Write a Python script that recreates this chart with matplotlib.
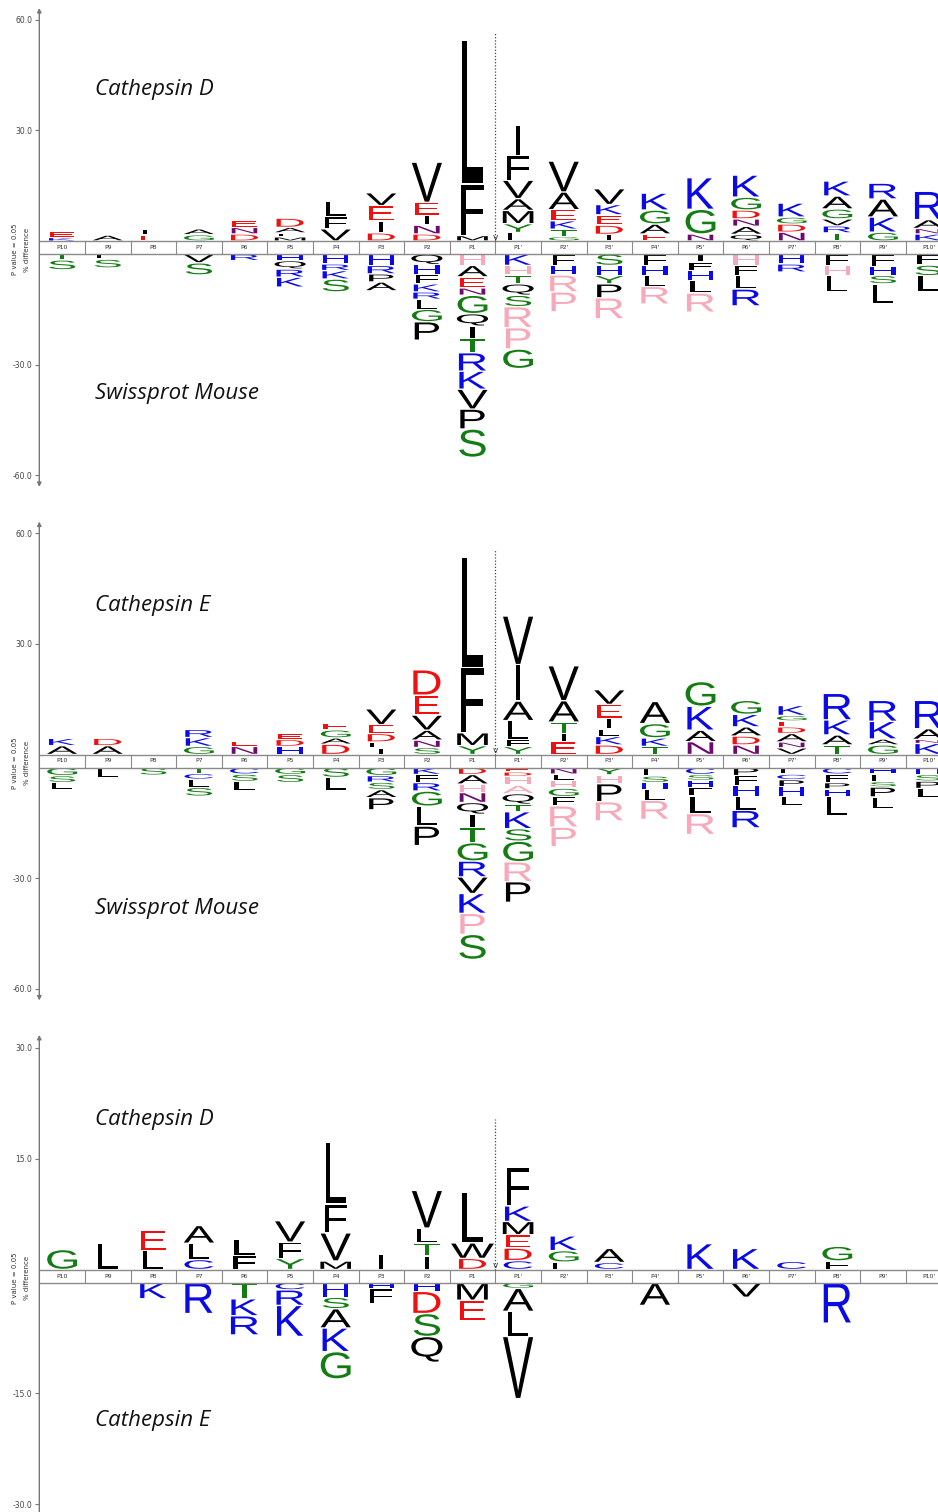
import matplotlib
matplotlib.use("Agg")
import matplotlib.pyplot as plt
from matplotlib.textpath import TextPath
from matplotlib.font_manager import FontProperties
from matplotlib.patches import PathPatch
from matplotlib.transforms import Affine2D

# ---- data -----------------------------------------------------------------
positions = ["P10", "P9", "P8", "P7", "P6", "P5", "P4", "P3", "P2", "P1",
             "P1'", "P2'", "P3'", "P4'", "P5'", "P6'", "P7'", "P8'", "P9'", "P10'"]

PINK = "#f7a9b9"

# each position: (residue, % difference[, colour override]), listed from the axis outward
catD_vs_mouse_up = [
    [("K", 0.9), ("E", 1.7)],
    [("A", 1.6)],
    [("E", 1.6), ("L", 1.6)],
    [("G", 1.7), ("A", 1.6)],
    [("D", 1.9), ("N", 1.8), ("E", 1.9)],
    [("M", 1.1), ("F", 1.1), ("A", 1.5), ("D", 2.5)],
    [("V", 3.3), ("F", 3.3), ("L", 4.2)],
    [("D", 2.2), ("I", 3.2), ("E", 4.2), ("V", 3.5)],
    [("D", 1.9), ("N", 2.4), ("I", 2.7), ("E", 3.5), ("V", 10.9)],
    [("M", 1.5), ("F", 14.0), ("L", 39.0)],
    [("L", 2.3), ("Y", 2.4), ("M", 3.6), ("A", 3.2), ("V", 5.0), ("F", 6.7), ("I", 8.3)],
    [("G", 1.2), ("T", 2.0), ("K", 2.3), ("E", 3.0), ("A", 4.8), ("V", 8.4)],
    [("I", 1.8), ("D", 2.5), ("E", 2.8), ("K", 2.8), ("V", 4.3)],
    [("E", 1.9), ("A", 2.7), ("G", 3.8), ("K", 4.6)],
    [("N", 1.9), ("G", 6.7), ("K", 8.6)],
    [("Q", 1.8), ("A", 2.2), ("N", 2.0), ("D", 2.4), ("G", 3.5), ("K", 6.0)],
    [("N", 2.4), ("D", 2.2), ("G", 1.9), ("K", 3.8)],
    [("T", 2.2), ("R", 1.9), ("V", 1.9), ("G", 2.7), ("A", 3.5), ("K", 4.1)],
    [("G", 2.4), ("K", 4.1), ("A", 4.9), ("R", 4.3)],
    [("K", 1.9), ("N", 1.5), ("A", 2.4), ("R", 7.7)],
]
catD_vs_mouse_down = [
    [("T", 1.6), ("S", 2.7)],
    [("F", 1.4), ("S", 2.4)],
    [],
    [("V", 2.4), ("S", 3.3)],
    [("R", 1.8)],
    [("H", 1.8), ("Q", 2.3), ("R", 2.2), ("K", 2.7)],
    [("H", 2.7), ("R", 1.8), ("K", 2.3), ("S", 3.5)],
    [("H", 3.1), ("R", 2.3), ("P", 2.2), ("A", 2.4)],
    [("Q", 2.9), ("H", 2.6), ("F", 2.6), ("K", 2.2), ("R", 2.0), ("L", 2.7), ("G", 3.4), ("P", 5.0)],
    [("H", 3.1, PINK), ("A", 3.1), ("E", 3.0), ("N", 2.0), ("G", 5.0), ("Q", 3.4), ("I", 3.4),
     ("T", 3.8), ("R", 5.0), ("K", 4.9), ("V", 5.4), ("P", 5.4), ("S", 7.7)],
    [("K", 3.1), ("H", 2.6, PINK), ("T", 2.4), ("Q", 3.1), ("S", 3.1), ("R", 5.7, PINK),
     ("P", 5.8, PINK), ("G", 5.3)],
    [("F", 3.1), ("H", 2.6), ("R", 4.6, PINK), ("P", 5.4, PINK)],
    [("S", 3.1), ("H", 2.7), ("Y", 2.3), ("P", 3.8), ("R", 5.7, PINK)],
    [("F", 3.1), ("H", 2.7), ("L", 3.0), ("R", 4.8, PINK)],
    [("I", 2.2), ("F", 2.3), ("H", 2.7), ("L", 3.4), ("R", 5.2, PINK)],
    [("H", 3.1, PINK), ("F", 2.7), ("L", 3.7), ("R", 4.6)],
    [("H", 2.7), ("R", 2.2)],
    [("F", 3.1), ("H", 2.7, PINK), ("L", 4.5)],
    [("F", 3.4), ("H", 2.4), ("S", 2.3), ("L", 5.4)],
    [("F", 3.0), ("S", 2.9), ("L", 4.2)],
]

catE_vs_mouse_up = [
    [("A", 2.4), ("K", 2.0)],
    [("A", 2.4), ("D", 2.0)],
    [],
    [("G", 2.2), ("K", 2.4), ("R", 2.2)],
    [("N", 2.2), ("E", 1.4)],
    [("H", 2.2), ("D", 1.9), ("E", 1.6)],
    [("D", 2.8), ("A", 1.7), ("G", 2.2), ("E", 1.8)],
    [("I", 1.8), ("F", 1.6), ("D", 2.3), ("E", 2.4), ("V", 4.3)],
    [("S", 1.9), ("N", 2.0), ("A", 2.7), ("V", 4.1), ("E", 5.4), ("D", 6.9)],
    [("Y", 2.4), ("M", 3.5), ("F", 17.7), ("L", 29.9)],
    [("Y", 2.2), ("F", 1.8), ("L", 5.2), ("A", 5.3), ("I", 9.9), ("V", 13.2)],
    [("E", 3.5), ("I", 2.2), ("T", 3.1), ("A", 5.8), ("V", 9.5)],
    [("D", 2.6), ("K", 2.3), ("L", 2.0), ("I", 2.9), ("E", 3.8), ("V", 4.0)],
    [("T", 2.2), ("K", 2.3), ("G", 3.9), ("A", 6.0)],
    [("N", 3.5), ("A", 3.1), ("K", 6.5), ("G", 6.7)],
    [("N", 2.6), ("D", 2.4), ("A", 2.5), ("K", 3.4), ("G", 3.8)],
    [("V", 1.8), ("N", 1.6), ("A", 2.3), ("D", 1.8), ("E", 1.6), ("G", 1.5), ("K", 2.7)],
    [("T", 2.6), ("A", 2.7), ("K", 4.1), ("R", 7.2)],
    [("G", 2.6), ("A", 1.6), ("K", 4.8), ("R", 5.7)],
    [("K", 3.0), ("N", 1.1), ("A", 2.9), ("R", 7.7)],
]
catE_vs_mouse_down = [
    [("G", 2.2), ("S", 1.9), ("L", 1.9)],
    [("L", 2.8)],
    [("S", 2.1)],
    [("T", 1.6), ("C", 1.6), ("L", 2.2), ("S", 2.4)],
    [("C", 1.8), ("S", 2.0), ("L", 2.4)],
    [("G", 1.9), ("S", 2.2)],
    [("S", 2.7), ("L", 3.5)],
    [("G", 2.2), ("R", 1.8), ("S", 2.0), ("A", 2.2), ("P", 3.3)],
    [("K", 1.9), ("F", 2.2), ("R", 2.3), ("G", 4.1), ("L", 5.4), ("P", 5.3)],
    [("D", 1.9), ("A", 2.6), ("H", 2.3, PINK), ("N", 2.7), ("Q", 3.2), ("I", 3.6), ("T", 4.1),
     ("G", 5.0), ("R", 4.3), ("V", 4.5), ("K", 5.4), ("P", 5.7, PINK), ("S", 6.8)],
    [("E", 1.2), ("D", 1.2), ("H", 2.4, PINK), ("A", 2.3, PINK), ("Q", 2.9), ("T", 2.0),
     ("K", 4.6), ("S", 3.4), ("G", 5.6), ("R", 5.4, PINK), ("P", 5.6)],
    [("N", 1.8), ("L", 1.8), ("H", 2.0, PINK), ("G", 2.3), ("F", 2.5), ("R", 5.8, PINK),
     ("P", 5.3, PINK)],
    [("Y", 2.0), ("H", 2.4, PINK), ("P", 4.9), ("R", 5.2, PINK)],
    [("F", 2.3), ("S", 1.8), ("H", 1.8), ("L", 3.0), ("R", 5.2, PINK)],
    [("C", 1.9), ("S", 1.6), ("H", 1.9), ("F", 2.3), ("L", 4.8), ("R", 5.7, PINK)],
    [("P", 2.2), ("F", 2.7), ("H", 2.9), ("L", 3.8), ("R", 4.8)],
    [("F", 1.8), ("C", 1.5), ("P", 1.9), ("H", 2.6), ("L", 2.6)],
    [("C", 1.8), ("F", 2.3), ("P", 1.7), ("H", 2.0), ("L", 5.3)],
    [("H", 1.8), ("F", 2.0), ("S", 1.5), ("P", 2.7), ("L", 3.3)],
    [("H", 1.9), ("S", 1.8), ("P", 2.0), ("L", 2.4)],
]

catD_vs_catE_up = [
    [("G", 2.7)],
    [("L", 3.5)],
    [("L", 2.6), ("E", 2.7)],
    [("C", 1.35), ("L", 2.2), ("A", 2.4)],
    [("F", 1.9), ("L", 2.2)],
    [("Y", 1.5), ("F", 2.2), ("V", 2.9)],
    [("M", 1.15), ("V", 3.8), ("F", 3.9), ("L", 8.4)],
    [("I", 2.0)],
    [("I", 1.8), ("T", 1.8), ("L", 2.0), ("V", 5.1)],
    [("D", 1.5), ("W", 2.1), ("L", 6.8)],
    [("C", 1.2), ("D", 1.7), ("E", 1.8), ("M", 1.8), ("K", 2.1), ("F", 5.2)],
    [("F", 1.0), ("G", 1.55), ("K", 2.0)],
    [("C", 0.95), ("A", 1.9)],
    [],
    [("K", 3.5)],
    [("K", 2.85)],
    [("C", 1.1)],
    [("F", 1.15), ("G", 2.0)],
    [],
    [],
]
catD_vs_catE_down = [
    [],
    [],
    [("K", 2.2)],
    [("R", 4.2)],
    [("T", 2.2), ("K", 2.3), ("R", 2.6)],
    [("C", 1.0), ("R", 2.1), ("K", 4.2)],
    [("H", 2.0), ("S", 1.55), ("A", 2.6), ("K", 3.2), ("G", 3.7)],
    [("H", 0.8), ("F", 2.0)],
    [("H", 1.2), ("D", 3.0), ("S", 3.1), ("Q", 3.5)],
    [("M", 2.4), ("E", 2.8)],
    [("G", 0.8), ("A", 3.1), ("L", 3.4), ("V", 8.4)],
    [],
    [],
    [("A", 3.1)],
    [],
    [("V", 2.0)],
    [],
    [("R", 5.5)],
    [],
    [],
]

AA_COLOURS = {}
for aa in "AVLIMFWPQ":
    AA_COLOURS[aa] = "black"
for aa in "KRHC":
    AA_COLOURS[aa] = "#0a0ae6"
for aa in "DE":
    AA_COLOURS[aa] = "#f01010"
for aa in "GSTY":
    AA_COLOURS[aa] = "#137d13"
AA_COLOURS["N"] = "#6e0a6e"

# ---- drawing helpers ------------------------------------------------------
FIG_W, FIG_H, DPI = 938, 1512, 100
AXIS_X_PX = 39.3
COL_PX = 45.6
GLYPH_FONT = FontProperties(family="Liberation Sans")
REF_W = TextPath((0, 0), "H", size=1, prop=GLYPH_FONT).get_extents().width
LETTER_W = 0.56


def draw_letter(ax, aa, x, y0, h, colour, pad):
    path = TextPath((0, 0), aa, size=1, prop=GLYPH_FONT)
    ext = path.get_extents()
    inner = max(h - 2 * pad, h * 0.7)
    sx = LETTER_W / REF_W
    sy = inner / ext.height
    tr = (Affine2D().translate(-ext.x0 - ext.width / 2, -ext.y0)
          .scale(sx, sy).translate(x, y0 + (h - inner) / 2))
    ax.add_patch(PathPatch(tr.transform_path(path), facecolor=colour,
                           edgecolor="none", lw=0))


def draw_stacks(ax, stacks, sign, gap, pad):
    for i, stack in enumerate(stacks):
        y = sign * gap / 2
        for item in stack:
            aa, h = item[0], item[1]
            colour = item[2] if len(item) > 2 else AA_COLOURS[aa]
            if sign > 0:
                draw_letter(ax, aa, i, y, h, colour, pad)
                y += h
            else:
                y -= h
                draw_letter(ax, aa, i, y, h, colour, pad)


panels = [
    dict(up=catD_vs_mouse_up, down=catD_vs_mouse_down, centre=247.5, ppu=3.684, half=66,
         ticks=[60, 30, -30, -60], top_label="Cathepsin D", bottom_label="Swissprot Mouse",
         label_vals=(41, -38), cleave_top=56.5, axis_ends=(-65, 65), both_arrows=True),
    dict(up=catE_vs_mouse_up, down=catE_vs_mouse_down, centre=761, ppu=3.684, half=66,
         ticks=[60, 30, -30, -60], top_label="Cathepsin E", bottom_label="Swissprot Mouse",
         label_vals=(40.5, -38.3), cleave_top=55.7, axis_ends=(-65, 65), both_arrows=True),
    dict(up=catD_vs_catE_up, down=catD_vs_catE_down, centre=1276, ppu=7.395, half=33,
         ticks=[30, 15, -15, -30], top_label="Cathepsin D", bottom_label="Cathepsin E",
         label_vals=(20.3, -18.7), cleave_top=20.3, axis_ends=(-34, 32.6), both_arrows=False),
]

fig = plt.figure(figsize=(FIG_W / DPI, FIG_H / DPI), dpi=DPI)

xmin = -0.5
xmax = xmin + (FIG_W - AXIS_X_PX) / COL_PX

for p in panels:
    ppu = p["ppu"]
    gap = 13.0 / ppu
    pad = 0.7 / ppu
    height_px = 2 * p["half"] * ppu
    bottom = 1 - (p["centre"] + height_px / 2) / FIG_H
    ax = fig.add_axes([AXIS_X_PX / FIG_W, bottom, 1 - AXIS_X_PX / FIG_W, height_px / FIG_H])
    ax.set_xlim(xmin, xmax)
    ax.set_ylim(-p["half"], p["half"])
    for s in ax.spines.values():
        s.set_visible(False)
    ax.set_xticks([])

    def shift(v):
        return v + gap / 2 if v >= 0 else v - gap / 2

    ax.set_yticks([shift(t) for t in p["ticks"]])
    ax.set_yticklabels([f"{t:.1f}" for t in p["ticks"]])
    ax.tick_params(axis="y", length=3, width=0.8, color="#777777", labelsize=5.5,
                   labelcolor="#444444", pad=2)

    # y axis with arrow heads
    style = "<|-|>" if p["both_arrows"] else "-|>"
    ax.annotate("", xy=(xmin, p["axis_ends"][1]), xytext=(xmin, p["axis_ends"][0]),
                arrowprops=dict(arrowstyle=style, color="#777777", lw=1.0,
                                mutation_scale=6, shrinkA=0, shrinkB=0),
                annotation_clip=False)

    # position band
    for yb in (gap / 2, -gap / 2):
        ax.plot([xmin, len(positions) - 0.5], [yb, yb], color="#8a8a8a", lw=1.0,
                solid_capstyle="butt")
    for k in range(len(positions) + 1):
        ax.plot([k - 0.5, k - 0.5], [-gap / 2, gap / 2], color="#8a8a8a", lw=0.8)
    for k, lab in enumerate(positions):
        ax.text(k, 0, lab, fontsize=4.5, ha="center", va="center", color="#333333")

    # cleavage site
    ax.plot([9.5, 9.5], [gap / 2, shift(p["cleave_top"])], color="#444444", lw=0.9,
            ls=(0, (1, 1.5)))
    ax.text(9.5, gap / 2 - 0.2 / ppu * 3.684, "v", fontsize=6.5, ha="center", va="bottom",
            color="#333333")

    draw_stacks(ax, p["up"], 1, gap, pad)
    draw_stacks(ax, p["down"], -1, gap, pad)

    ax.text(0.72, shift(p["label_vals"][0]), p["top_label"], fontsize=16, style="italic",
            family="Open Sans", ha="left", va="center", color="#111111")
    ax.text(0.72, shift(p["label_vals"][1]), p["bottom_label"], fontsize=16, style="italic",
            family="Open Sans", ha="left", va="center", color="#111111")

    yc = 1 - (p["centre"] + 2) / FIG_H
    fig.text(15 / FIG_W, yc, "P value = 0.05", rotation=90, fontsize=5, ha="center",
             va="center", color="#333333")
    fig.text(27 / FIG_W, yc, "% difference", rotation=90, fontsize=5, ha="center",
             va="center", color="#333333")

fig.savefig("out.png", dpi=DPI, facecolor="white")
